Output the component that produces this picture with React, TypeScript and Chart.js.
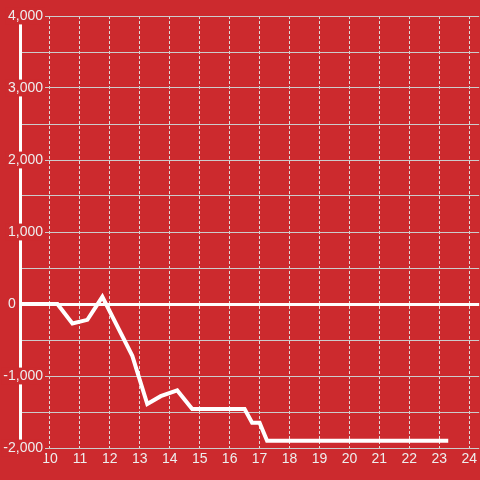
import React, { useEffect, useRef } from "react";
import { Chart, registerables } from "chart.js";

Chart.register(...registerables);

// Series: x position (hours) and value
const xValues = [9, 10.25, 10.75, 11.25, 11.75, 12.75, 13.25, 13.7, 14.25, 14.75, 16.5, 16.75, 17, 17.25, 23.3];
const yValues = [0, 0, -270, -220, 100, -720, -1390, -1280, -1200, -1460, -1460, -1650, -1650, -1900, -1900];

// Axis ticks
const xTickLabels = [10, 11, 12, 13, 14, 15, 16, 17, 18, 19, 20, 21, 22, 23, 24];
const yTickLabels = [4000, 3000, 2000, 1000, 0, -1000, -2000];
const xMin = 9;
const xMax = 24.333;
const yMin = -2000;
const yMax = 4000;

const BG = "#cc2a2e";
const TEXT = "#eeeeee";
const FONT = '"Liberation Sans", Arial, sans-serif';

export default function App() {
  const ref = useRef<HTMLCanvasElement | null>(null);

  useEffect(() => {
    if (!ref.current) return;
    const chart = new Chart(ref.current, {
      type: "line",
      data: {
        datasets: [
          {
            data: xValues.map((x, i) => ({ x, y: yValues[i] })),
            borderColor: "#ffffff",
            borderWidth: 4,
            pointRadius: 0,
            fill: false,
            tension: 0,
          },
        ],
      },
      options: {
        animation: false,
        responsive: false,
        maintainAspectRatio: false,
        layout: { padding: { top: 16, right: 0, bottom: 0, left: 0 } },
        plugins: { legend: { display: false }, tooltip: { enabled: false } },
        scales: {
          x: {
            type: "linear",
            min: xMin,
            max: xMax,
            ticks: {
              stepSize: 1,
              includeBounds: false,
              autoSkip: false,
              maxRotation: 0,
              color: TEXT,
              padding: 3,
              font: { family: FONT, size: 14 },
              callback: (v: any) => (xTickLabels.includes(Number(v)) ? String(v) : ""),
            },
            grid: {
              color: (ctx: any) => (ctx.tick && ctx.tick.value === xMin ? "transparent" : "#dddddd"),
              lineWidth: 1,
              drawTicks: false,
            },
            border: { display: false, dash: [3, 2] },
            afterFit: (s: any) => {
              s.height = 32;
            },
          },
          y: {
            type: "linear",
            min: yMin,
            max: yMax,
            ticks: {
              stepSize: 500,
              autoSkip: false,
              mirror: true,
              crossAlign: "far",
              padding: -16.7,
              color: TEXT,
              font: { family: FONT, size: 14 },
              callback: (v: any) => {
                const n = Number(v);
                if (!yTickLabels.includes(n)) return "";
                if (n === 0) return "0       ";
                return n.toLocaleString("en-US");
              },
              showLabelBackdrop: true,
              backdropColor: (ctx: any) => {
                const n = ctx.tick ? ctx.tick.value : NaN;
                return yTickLabels.includes(n) && n !== 0 ? BG : "transparent";
              },
              backdropPadding: { left: 2, right: 2, top: 0, bottom: 0 },
            },
            grid: {
              color: (ctx: any) => (ctx.tick && ctx.tick.value === 0 ? "#ffffff" : "#cccccc"),
              lineWidth: (ctx: any) => (ctx.tick && ctx.tick.value === 0 ? 3 : 1),
              drawTicks: false,
            },
            border: { display: true, color: "#ffffff", width: 3 },
            afterFit: (s: any) => {
              s.width = 20;
            },
          },
        },
      },
    } as any);
    return () => chart.destroy();
  }, []);

  return (
    <div style={{ position: "fixed", left: 0, top: 0, width: 480, height: 480, background: BG }}>
      <canvas ref={ref} width={480} height={480} style={{ display: "block", width: 480, height: 480 }} />
    </div>
  );
}
